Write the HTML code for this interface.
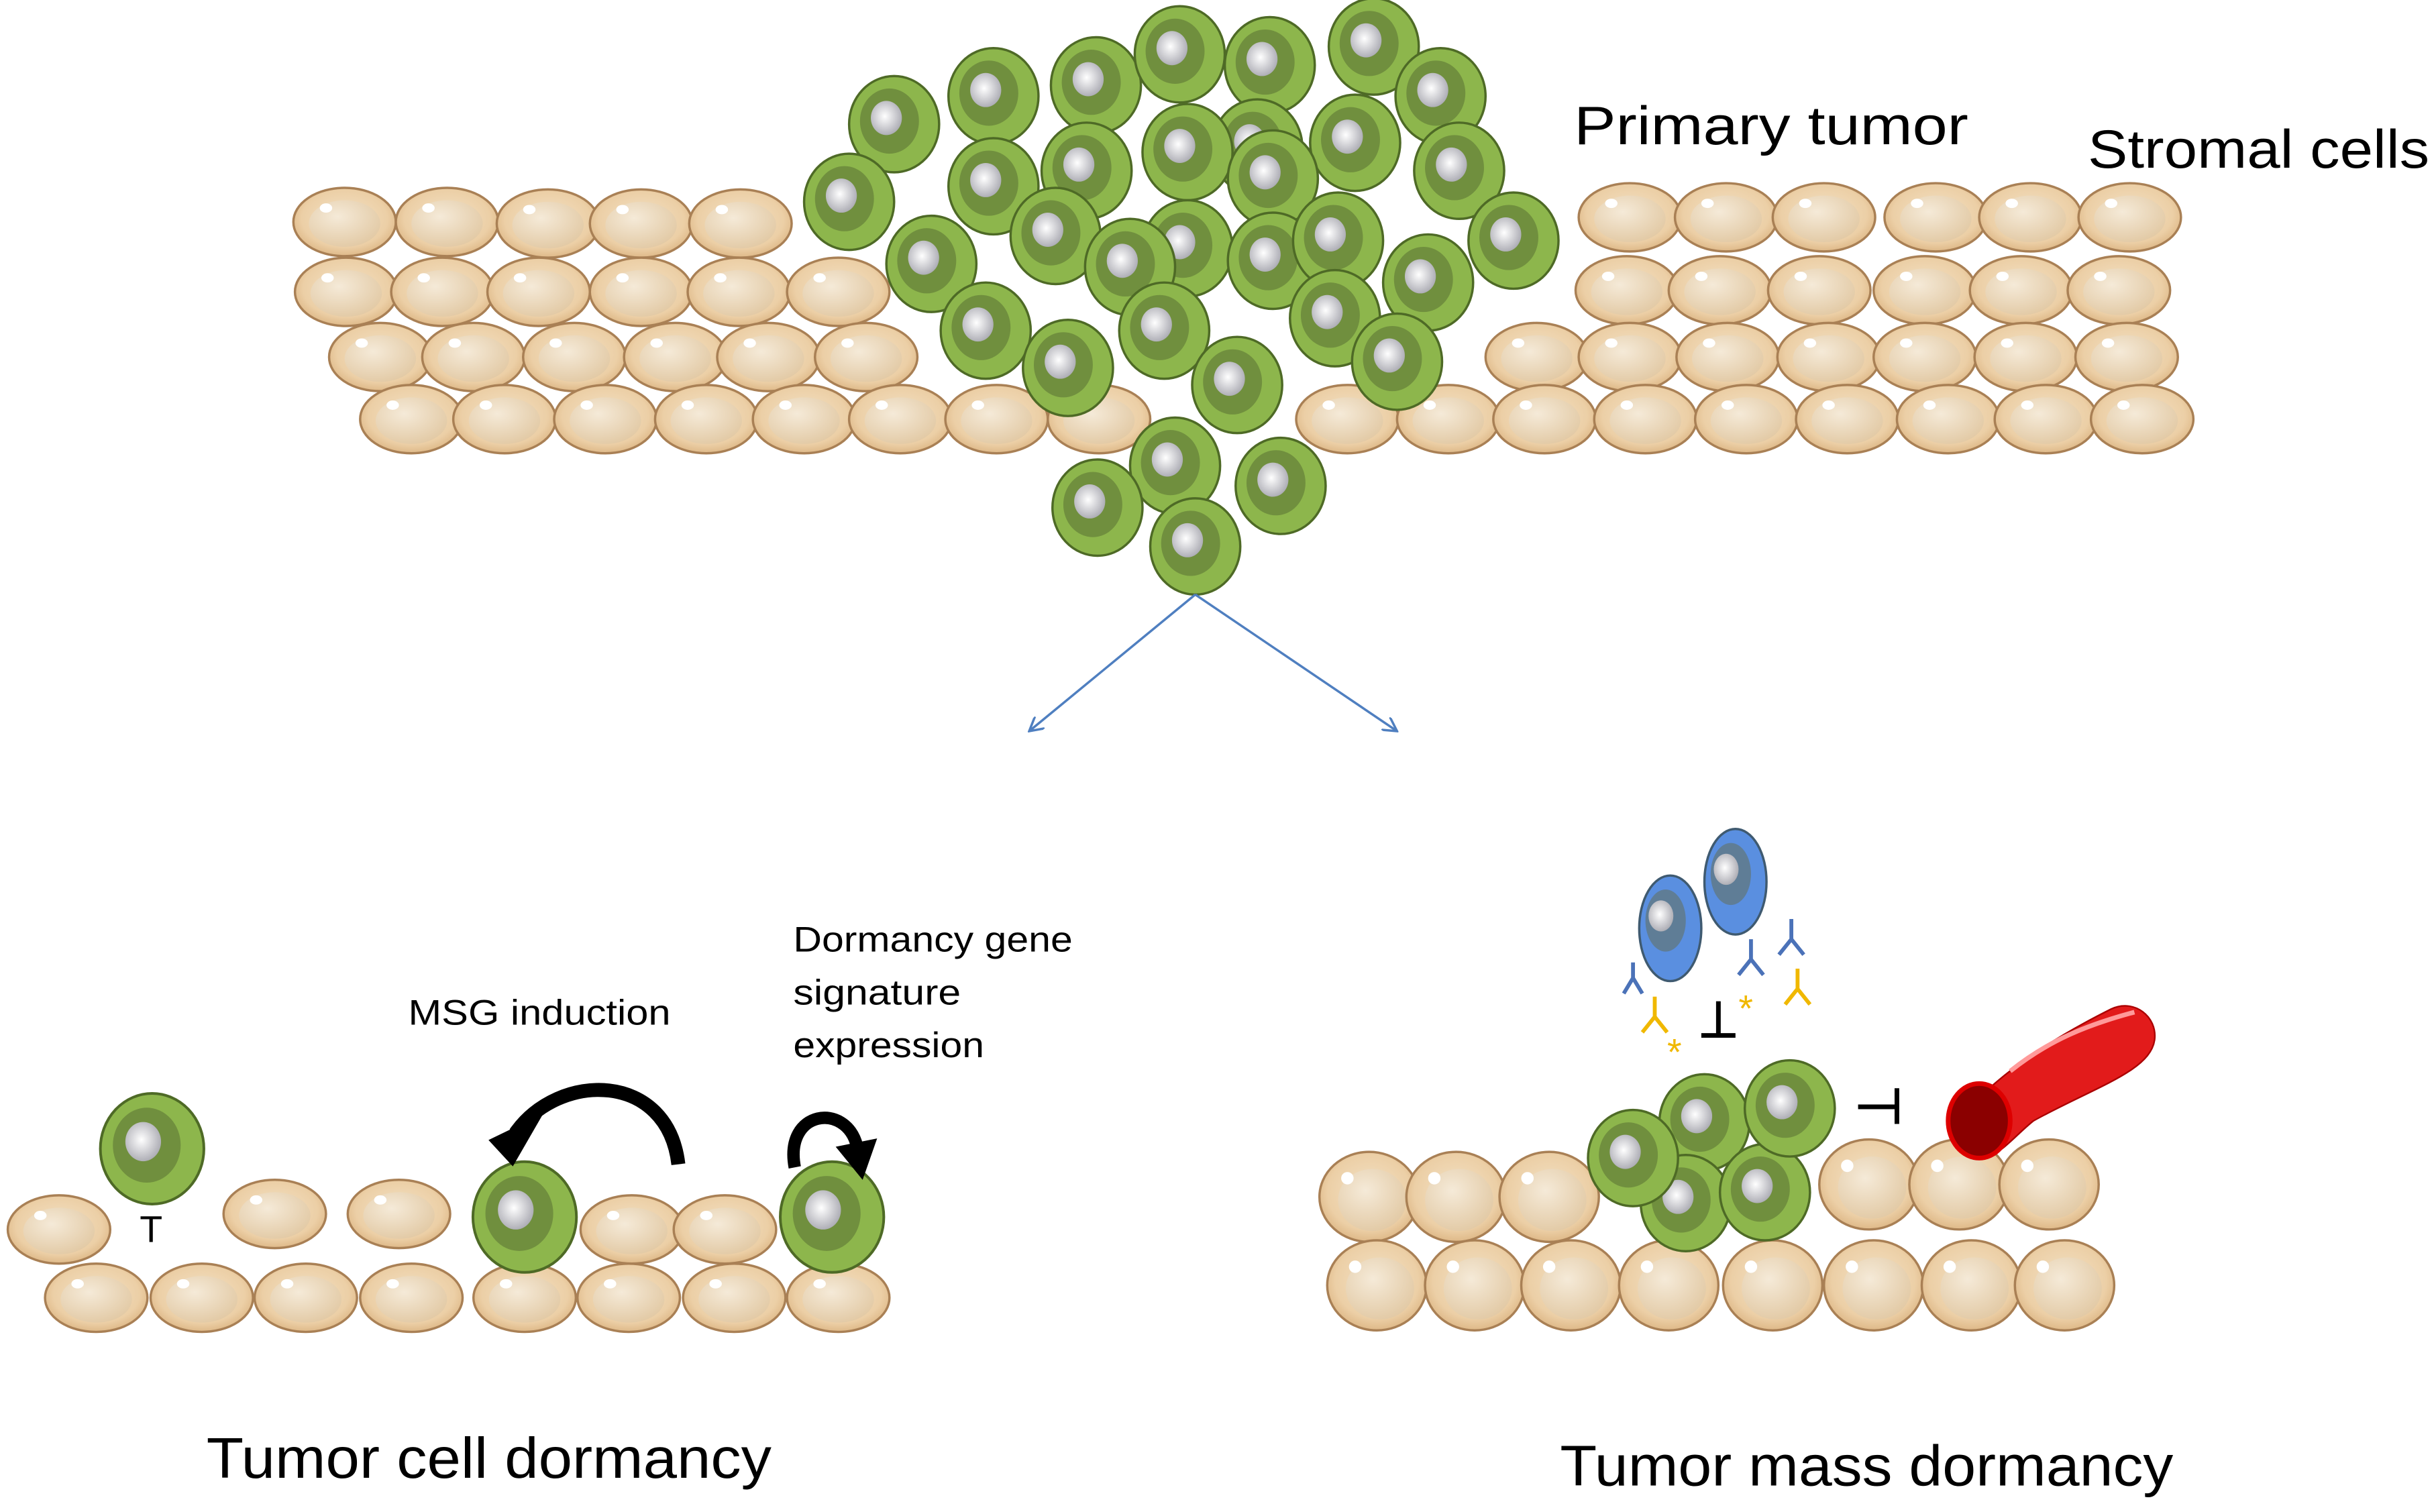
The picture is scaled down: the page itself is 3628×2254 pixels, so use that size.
<!DOCTYPE html>
<html><head><meta charset="utf-8"><style>html,body{margin:0;padding:0;background:#fff}svg{display:block}</style></head><body>
<svg width="3628" height="2254" viewBox="0 0 1568 974" preserveAspectRatio="none" xmlns="http://www.w3.org/2000/svg" xmlns:xlink="http://www.w3.org/1999/xlink">
<defs>
<radialGradient id="sg" cx="0.5" cy="0.45" r="0.6"><stop offset="0" stop-color="#f3e2c6"/><stop offset="0.7" stop-color="#eccfa6"/><stop offset="1" stop-color="#d9b07c"/></radialGradient>
<radialGradient id="si" cx="0.4" cy="0.35" r="0.7"><stop offset="0" stop-color="#f5ead8"/><stop offset="1" stop-color="#e2c9a4"/></radialGradient>
<radialGradient id="nu" cx="0.45" cy="0.45" r="0.6"><stop offset="0" stop-color="#ffffff"/><stop offset="1" stop-color="#a8a8b0"/></radialGradient>
<g id="s"><ellipse rx="33" ry="22" fill="url(#sg)" stroke="#a98055" stroke-width="1.5"/><ellipse cx="0" cy="1" rx="23" ry="15" fill="url(#si)"/><ellipse cx="-12" cy="-9" rx="4" ry="3" fill="#fff"/></g>
<g id="s2"><ellipse rx="32" ry="29" fill="url(#sg)" stroke="#a98055" stroke-width="1.5"/><ellipse cx="2" cy="2" rx="22" ry="20" fill="url(#si)"/><ellipse cx="-14" cy="-12" rx="4" ry="4" fill="#fff"/></g>
<g id="g"><ellipse rx="29" ry="31" fill="#8db64c" stroke="#4e6a26" stroke-width="1.5"/><ellipse cx="-3" cy="-2" rx="19" ry="21" fill="#708f3e"/><ellipse cx="-5" cy="-4" rx="10" ry="11" fill="url(#nu)"/></g>
<g id="b"><ellipse rx="20" ry="34" fill="#5a8fe0" stroke="#3f5a70" stroke-width="1.5"/><ellipse cx="-3" cy="-5" rx="13" ry="20" fill="#5f7d96"/><ellipse cx="-6" cy="-8" rx="8" ry="10" fill="url(#nu)"/></g>
<marker id="ah" markerWidth="10" markerHeight="10" refX="9" refY="5" orient="auto" markerUnits="userSpaceOnUse"><path d="M0,0 L9,5 L0,10" fill="none" stroke="#4f7fc0" stroke-width="1.5"/></marker>
</defs>
<rect width="1568" height="974" fill="#fff"/>
<g>
<use xlink:href="#s" x="222" y="143"/><use xlink:href="#s" x="288" y="143"/><use xlink:href="#s" x="353" y="144"/><use xlink:href="#s" x="413" y="144"/><use xlink:href="#s" x="477" y="144"/>
<use xlink:href="#s" x="223" y="188"/><use xlink:href="#s" x="285" y="188"/><use xlink:href="#s" x="347" y="188"/><use xlink:href="#s" x="413" y="188"/><use xlink:href="#s" x="476" y="188"/><use xlink:href="#s" x="540" y="188"/>
<use xlink:href="#s" x="245" y="230"/><use xlink:href="#s" x="305" y="230"/><use xlink:href="#s" x="370" y="230"/><use xlink:href="#s" x="435" y="230"/><use xlink:href="#s" x="495" y="230"/><use xlink:href="#s" x="558" y="230"/>
<use xlink:href="#s" x="265" y="270"/><use xlink:href="#s" x="325" y="270"/><use xlink:href="#s" x="390" y="270"/><use xlink:href="#s" x="455" y="270"/><use xlink:href="#s" x="518" y="270"/><use xlink:href="#s" x="580" y="270"/><use xlink:href="#s" x="642" y="270"/><use xlink:href="#s" x="708" y="270"/>
</g>
<g>
<use xlink:href="#s" x="1050" y="140"/><use xlink:href="#s" x="1112" y="140"/><use xlink:href="#s" x="1175" y="140"/><use xlink:href="#s" x="1247" y="140"/><use xlink:href="#s" x="1308" y="140"/><use xlink:href="#s" x="1372" y="140"/>
<use xlink:href="#s" x="1048" y="187"/><use xlink:href="#s" x="1108" y="187"/><use xlink:href="#s" x="1172" y="187"/><use xlink:href="#s" x="1240" y="187"/><use xlink:href="#s" x="1302" y="187"/><use xlink:href="#s" x="1365" y="187"/>
<use xlink:href="#s" x="990" y="230"/><use xlink:href="#s" x="1050" y="230"/><use xlink:href="#s" x="1113" y="230"/><use xlink:href="#s" x="1178" y="230"/><use xlink:href="#s" x="1240" y="230"/><use xlink:href="#s" x="1305" y="230"/><use xlink:href="#s" x="1370" y="230"/>
<use xlink:href="#s" x="868" y="270"/><use xlink:href="#s" x="933" y="270"/><use xlink:href="#s" x="995" y="270"/><use xlink:href="#s" x="1060" y="270"/><use xlink:href="#s" x="1125" y="270"/><use xlink:href="#s" x="1190" y="270"/><use xlink:href="#s" x="1255" y="270"/><use xlink:href="#s" x="1318" y="270"/><use xlink:href="#s" x="1380" y="270"/>
</g>
<g>
<use xlink:href="#g" x="576" y="80"/><use xlink:href="#g" x="640" y="62"/><use xlink:href="#g" x="706" y="55"/><use xlink:href="#g" x="760" y="35"/><use xlink:href="#g" x="818" y="42"/><use xlink:href="#g" x="885" y="30"/><use xlink:href="#g" x="928" y="62"/>
<use xlink:href="#g" x="547" y="130"/><use xlink:href="#g" x="640" y="120"/><use xlink:href="#g" x="700" y="110"/><use xlink:href="#g" x="810" y="95"/><use xlink:href="#g" x="765" y="98"/><use xlink:href="#g" x="873" y="92"/><use xlink:href="#g" x="940" y="110"/>
<use xlink:href="#g" x="600" y="170"/><use xlink:href="#g" x="765" y="160"/><use xlink:href="#g" x="680" y="152"/><use xlink:href="#g" x="728" y="172"/><use xlink:href="#g" x="820" y="115"/><use xlink:href="#g" x="820" y="168"/><use xlink:href="#g" x="862" y="155"/><use xlink:href="#g" x="975" y="155"/><use xlink:href="#g" x="920" y="182"/>
<use xlink:href="#g" x="635" y="213"/><use xlink:href="#g" x="688" y="237"/><use xlink:href="#g" x="750" y="213"/><use xlink:href="#g" x="860" y="205"/><use xlink:href="#g" x="900" y="233"/><use xlink:href="#g" x="797" y="248"/>
<use xlink:href="#g" x="757" y="300"/><use xlink:href="#g" x="707" y="327"/><use xlink:href="#g" x="825" y="313"/><use xlink:href="#g" x="770" y="352"/>
</g>
<g font-family="Liberation Sans, sans-serif" fill="#000">
<text x="1014" y="93" font-size="35" textLength="254" lengthAdjust="spacingAndGlyphs">Primary tumor</text>
<text x="1345" y="108" font-size="35" textLength="220" lengthAdjust="spacingAndGlyphs">Stromal cells</text>
<text x="133" y="952" font-size="37" textLength="364" lengthAdjust="spacingAndGlyphs">Tumor cell dormancy</text>
<text x="1005" y="957" font-size="37" textLength="395" lengthAdjust="spacingAndGlyphs">Tumor mass dormancy</text>
<text x="263" y="660" font-size="23" textLength="169" lengthAdjust="spacingAndGlyphs">MSG induction</text>
<text x="511" y="613" font-size="23" textLength="180" lengthAdjust="spacingAndGlyphs">Dormancy gene</text>
<text x="511" y="647" font-size="23" textLength="108" lengthAdjust="spacingAndGlyphs">signature</text>
<text x="511" y="681" font-size="23" textLength="123" lengthAdjust="spacingAndGlyphs">expression</text>
<text x="90" y="800" font-size="24">T</text>
</g>
<line x1="770" y1="383" x2="663" y2="471" stroke="#4f7fc0" stroke-width="1.5" marker-end="url(#ah)"/>
<line x1="770" y1="383" x2="900" y2="471" stroke="#4f7fc0" stroke-width="1.5" marker-end="url(#ah)"/>
<g>
<use xlink:href="#s" x="38" y="792"/><use xlink:href="#s" x="177" y="782"/><use xlink:href="#s" x="257" y="782"/><use xlink:href="#s" x="407" y="792"/><use xlink:href="#s" x="467" y="792"/>
<use xlink:href="#s" x="62" y="836"/><use xlink:href="#s" x="130" y="836"/><use xlink:href="#s" x="197" y="836"/><use xlink:href="#s" x="265" y="836"/><use xlink:href="#s" x="338" y="836"/><use xlink:href="#s" x="405" y="836"/><use xlink:href="#s" x="473" y="836"/><use xlink:href="#s" x="540" y="836"/>
<g transform="translate(98,740) scale(1.15)"><use xlink:href="#g"/></g>
<g transform="translate(338,784) scale(1.15)"><use xlink:href="#g"/></g>
<g transform="translate(536,784) scale(1.15)"><use xlink:href="#g"/></g>
</g>
<path d="M437,750 C430,690 360,690 332,730" fill="none" stroke="#000" stroke-width="9"/>
<path d="M318,735 L345,722 L330,748 Z" fill="#000" stroke="#000" stroke-width="4"/>
<path d="M512,752 C505,715 545,710 552,738" fill="none" stroke="#000" stroke-width="8"/>
<path d="M542,740 L562,736 L555,756 Z" fill="#000" stroke="#000" stroke-width="4"/>
<g>
<use xlink:href="#s2" x="882" y="771"/><use xlink:href="#s2" x="938" y="771"/><use xlink:href="#s2" x="998" y="771"/>
<use xlink:href="#s2" x="1204" y="763"/><use xlink:href="#s2" x="1262" y="763"/><use xlink:href="#s2" x="1320" y="763"/>
<use xlink:href="#s2" x="887" y="828"/><use xlink:href="#s2" x="950" y="828"/><use xlink:href="#s2" x="1012" y="828"/><use xlink:href="#s2" x="1075" y="828"/><use xlink:href="#s2" x="1142" y="828"/><use xlink:href="#s2" x="1207" y="828"/><use xlink:href="#s2" x="1270" y="828"/><use xlink:href="#s2" x="1330" y="828"/>
<use xlink:href="#g" x="1098" y="723"/><use xlink:href="#g" x="1086" y="775"/><use xlink:href="#g" x="1137" y="768"/><use xlink:href="#g" x="1052" y="746"/><use xlink:href="#g" x="1153" y="714"/>
</g>
<path d="M1262,720 C1290,690 1320,670 1360,650 C1375,643 1390,655 1388,670 C1385,690 1350,700 1310,722 C1300,730 1292,740 1282,745 Z" fill="#e21b1b" stroke="#a00" stroke-width="1"/>
<ellipse cx="1275" cy="722" rx="20" ry="24" fill="#8b0000" stroke="#d00" stroke-width="3"/>
<path d="M1295,690 C1320,670 1345,660 1375,652" stroke="#ff9a9a" stroke-width="3" fill="none"/>
<use xlink:href="#b" x="1076" y="598"/>
<use xlink:href="#b" x="1118" y="568"/>
<g fill="none" stroke-width="2.5">
<path d="M1046,640 L1052,630 L1058,640 M1052,630 L1052,620" stroke="#4b72b8"/>
<path d="M1120,628 L1128,618 L1136,628 M1128,618 L1128,605" stroke="#4b72b8"/>
<path d="M1146,615 L1154,605 L1162,615 M1154,605 L1154,592" stroke="#4b72b8"/>
<path d="M1058,665 L1066,655 L1074,665 M1066,655 L1066,642" stroke="#f0b800"/>
<path d="M1150,647 L1158,637 L1166,647 M1158,637 L1158,624" stroke="#f0b800"/>
</g>
<text x="1074" y="686" font-family="Liberation Sans, sans-serif" font-size="24" fill="#f0b800">*</text>
<text x="1120" y="658" font-family="Liberation Sans, sans-serif" font-size="24" fill="#f0b800">*</text>
<path d="M1096,667 L1118,667 M1107,667 L1107,645" stroke="#000" stroke-width="3"/>
<path d="M1197,713 L1222,713 M1222,701 L1222,724" stroke="#000" stroke-width="3"/>
</svg>
</body></html>
